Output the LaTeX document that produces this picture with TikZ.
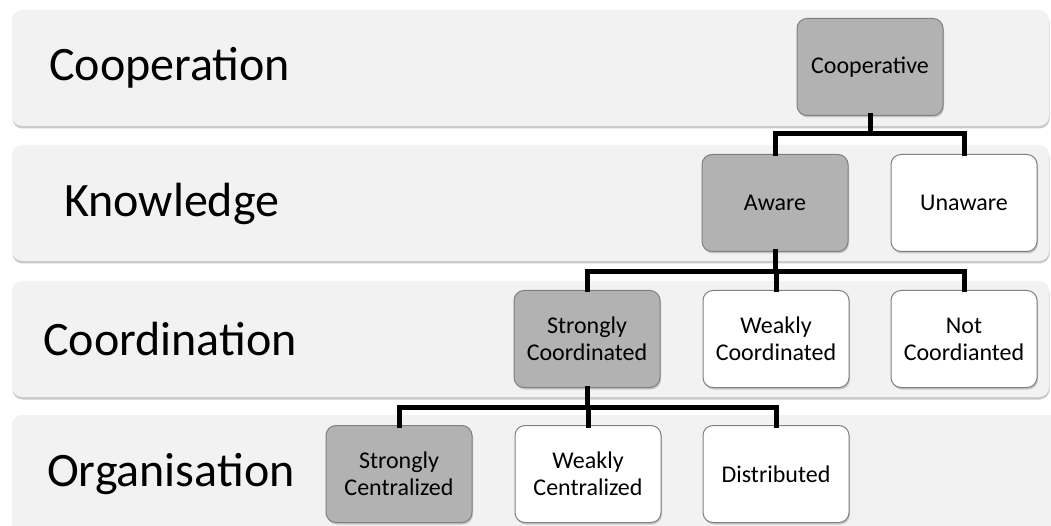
\documentclass[tikz,border=0pt]{standalone}
\usepackage{fontspec}
\setmainfont{Carlito}
\usetikzlibrary{positioning,shadows}

\definecolor{bandgray}{HTML}{F2F2F2}
\definecolor{boxgray}{HTML}{B2B2B2}
\definecolor{edgegray}{HTML}{7F7F7F}

\begin{document}
\begin{tikzpicture}[
      x=1pt, y=-1pt,
      band/.style={
          rectangle,
          rounded corners=10pt,
          fill=bandgray,
          drop shadow={shadow xshift=0.5pt, shadow yshift=-2.5pt, opacity=0.35, fill=black!60}
        },
      layer/.style={
          anchor=west,
          inner sep=0pt,
          font=\fontsize{48}{56}\selectfont
        },
      cat/.style={
          rectangle,
          rounded corners=10pt,
          draw=edgegray,
          line width=1pt,
          fill=white,
          minimum width=146pt,
          minimum height=97pt,
          align=center,
          font=\fontsize{24}{27}\selectfont,
          drop shadow={shadow xshift=1pt, shadow yshift=-2pt, opacity=0.3, fill=black!60}
        },
      chosen/.style={cat, fill=boxgray},
      link/.style={line width=5pt, line cap=rect}
    ]
    \useasboundingbox (0,0) rectangle (1051,526);

    % Layer bands
    \fill[band] (12,10)  rectangle (1049,126);
    \fill[band] (12,145) rectangle (1049,261);
    \fill[band] (12,281) rectangle (1049,397);
    \fill[band] (12,415) rectangle (1070,560);

    \node[layer] at (49,68)  (coopL) {Cooperation};
    \node[layer] at (64,204) (knowL) {Knowledge};
    \node[layer] at (43,339) (cordL) {Coordination};
    \node[layer] at (47,474) (orgL)  {Organisation};

    % Explicit positions
    \node[chosen] at (870,67)  (coop)    {Cooperative};
    \node[chosen] at (775,203) (aware)   {Aware};
    \node[cat]    at (964,203) (unaware) {Unaware};
    \node[chosen] at (587,339) (strong)  {Strongly\\Coordinated};
    \node[cat]    at (776,339) (weak)    {Weakly\\Coordinated};
    \node[cat]    at (964,339) (notco)   {Not\\Coordianted};
    \node[chosen] at (399,474) (strcen)  {Strongly\\Centralized};
    \node[cat]    at (588,474) (weakcen) {Weakly\\Centralized};
    \node[cat]    at (776,474) (distr)   {Distributed};

    % Tree links
    \draw[link] (coop.south) -- ++(0,18) -| (aware.north);
    \draw[link] (coop.south) -- ++(0,18) -| (unaware.north);
    \draw[link] (aware.south) -- ++(0,20) -| (strong.north);
    \draw[link] (aware.south) -- ++(0,20) -| (weak.north);
    \draw[link] (aware.south) -- ++(0,20) -| (notco.north);
    \draw[link] (strong.south) -- ++(0,19) -| (strcen.north);
    \draw[link] (strong.south) -- ++(0,19) -| (weakcen.north);
    \draw[link] (strong.south) -- ++(0,19) -| (distr.north);
  \end{tikzpicture}
\end{document}
